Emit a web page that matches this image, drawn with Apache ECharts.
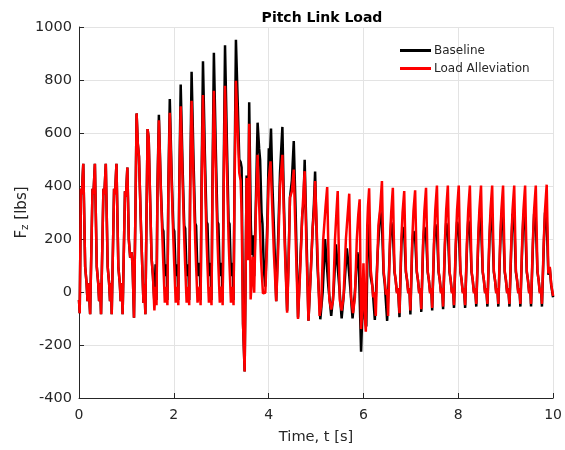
<!DOCTYPE html>
<html><head><meta charset="utf-8">
<script src="https://cdn.jsdelivr.net/npm/echarts@6/dist/echarts.min.js"></script>
<style>html,body{margin:0;padding:0;background:#fff}#c{width:565px;height:450px}</style>
</head><body><div id="c"></div>
<script>
// Axis ticks
const xTicks = [0, 2, 4, 6, 8, 10];
const yTicks = [-400, -200, 0, 200, 400, 600, 800, 1000];
const seriesNames = ['Baseline', 'Load Alleviation'];

// [time (s), Fz (lbs)], Load Alleviation (red)
const loadAlleviation = [
 [0,-30],[0.015,-80],[0.04,390],[0.06,370],[0.09,484],[0.13,95],[0.16,33],[0.18,-35],[0.20,33],
 [0.235,-84],[0.285,390],[0.305,370],[0.335,484],[0.375,95],[0.405,33],[0.425,-35],[0.445,33],
 [0.465,-84],[0.515,390],[0.535,370],[0.565,484],[0.605,95],[0.635,33],[0.655,-35],[0.675,33],
 [0.69,-84],[0.74,390],[0.76,370],[0.79,484],[0.83,95],[0.86,33],[0.88,-35],[0.90,33],
 [0.92,-84],[0.97,380],[0.99,360],[1.02,470],[1.05,200],[1.08,130],[1.11,150],[1.13,100],
 [1.16,-97],[1.19,300],[1.215,674],[1.24,560],[1.265,512],[1.31,230],[1.36,-41],[1.38,27],[1.40,-84],
 [1.425,300],[1.447,615],[1.47,580],[1.50,350],[1.53,130],[1.56,60],[1.59,-70],
 [1.615,20],[1.635,-50],[1.655,380],[1.685,648],[1.725,390],[1.76,200],[1.78,100],[1.81,-40],
 [1.845,20],[1.865,-50],[1.885,380],[1.915,676],[1.955,405],[1.99,200],[2.01,100],[2.04,-40],
 [2.075,20],[2.095,-50],[2.115,380],[2.145,701],[2.185,420],[2.22,200],[2.24,100],[2.27,-40],
 [2.305,20],[2.325,-50],[2.345,380],[2.375,722],[2.415,433],[2.45,200],[2.47,100],[2.50,-40],
 [2.545,20],[2.565,-50],[2.585,380],[2.615,743],[2.655,445],[2.69,200],[2.71,100],[2.74,-40],
 [2.775,20],[2.795,-50],[2.815,380],[2.845,759],[2.885,455],[2.92,200],[2.94,100],[2.97,-40],
 [3.01,20],[3.03,-50],[3.05,380],[3.08,778],[3.12,467],[3.155,200],[3.175,100],[3.205,-40],
 [3.24,20],[3.26,-50],[3.28,380],[3.31,797],[3.35,600],[3.38,450],[3.41,420],[3.43,300],[3.46,-120],[3.494,-300],[3.535,430],[3.565,120],
 [3.59,635],[3.62,-28],[3.65,60],[3.67,133],[3.695,-3],[3.73,300],
 [3.767,518],[3.80,330],[3.84,120],[3.88,-5],[3.93,-3],[3.97,200],[4.00,420],
 [4.04,493],[4.07,350],[4.11,150],[4.16,-35],[4.20,150],[4.24,400],
 [4.29,518],[4.32,300],[4.345,150],[4.39,-78],[4.42,100],[4.45,356],[4.49,380],
 [4.53,462],[4.57,200],[4.62,-102],[4.66,60],[4.71,294],[4.735,300],
 [4.76,456],[4.80,150],[4.84,-108],[4.89,80],[4.93,245],[4.955,300],
 [4.98,419],[5.03,150],[5.05,30],[5.075,-90],[5.11,-50],[5.15,195],[5.20,320],
 [5.235,396],[5.28,-28],[5.32,-66],[5.36,-30],[5.40,200],[5.43,300],
 [5.457,381],[5.50,-30],[5.54,-70],[5.58,-20],[5.63,200],[5.67,300],
 [5.70,371],[5.74,-20],[5.78,-80],[5.82,-20],[5.86,200],[5.89,290],
 [5.92,350],[5.95,-140],[5.975,-60],[6.00,108],[6.03,-100],[6.05,-150],[6.08,250],[6.095,320],
 [6.12,391],[6.155,80],[6.18,40],[6.205,-20],[6.23,0],[6.26,-90],[6.315,250],[6.35,310],
 [6.39,419],[6.425,80],[6.45,40],[6.475,-10],[6.50,10],
 [6.52,-90],[6.56,200],[6.585,300],[6.62,393],[6.655,80],[6.68,45],[6.705,-5],[6.73,15],
 [6.76,-80],[6.80,200],[6.825,300],[6.86,381],[6.895,80],[6.92,45],[6.945,-5],[6.97,15],
 [6.99,-70],[7.03,200],[7.055,305],[7.09,384],[7.125,80],[7.15,45],[7.175,-5],[7.20,15],
 [7.22,-65],[7.26,200],[7.285,305],[7.32,393],[7.355,80],[7.38,45],[7.405,-5],[7.43,15],
 [7.45,-60],[7.49,200],[7.515,310],[7.55,402],[7.585,80],[7.61,45],[7.635,-5],[7.66,15],
 [7.68,-55],[7.72,200],[7.745,310],[7.78,402],[7.815,80],[7.84,45],[7.865,-5],[7.89,15],
 [7.91,-50],[7.95,200],[7.975,310],[8.01,402],[8.045,80],[8.07,45],[8.095,-5],[8.12,15],
 [8.145,-50],[8.185,200],[8.21,310],[8.245,402],[8.28,80],[8.305,45],[8.33,-5],[8.355,15],
 [8.38,-45],[8.42,200],[8.445,310],[8.48,402],[8.515,80],[8.54,45],[8.565,-5],[8.59,15],
 [8.615,-45],[8.655,200],[8.68,310],[8.715,402],[8.75,80],[8.775,45],[8.80,-5],[8.825,15],
 [8.845,-45],[8.885,200],[8.91,310],[8.945,402],[8.98,80],[9.005,45],[9.03,-5],[9.055,15],
 [9.08,-45],[9.12,200],[9.145,310],[9.18,402],[9.215,80],[9.24,45],[9.265,-5],[9.29,15],
 [9.31,-45],[9.35,200],[9.375,310],[9.41,402],[9.445,80],[9.47,45],[9.495,-5],[9.52,15],
 [9.535,-45],[9.575,200],[9.60,310],[9.635,402],[9.67,80],[9.695,45],[9.72,-5],[9.745,15],
 [9.765,-45],[9.805,200],[9.83,310],[9.865,405],[9.90,70],[9.93,95],[9.96,30],[10.0,-15]
];

// [time (s), Fz (lbs)], Baseline (black)
const baseline = [
 [0,-30],[0.015,-80],[0.04,390],[0.06,370],[0.09,484],[0.13,95],[0.16,33],[0.18,-35],[0.20,33],
 [0.235,-84],[0.285,390],[0.305,370],[0.335,484],[0.375,95],[0.405,33],[0.425,-35],[0.445,33],
 [0.465,-84],[0.515,390],[0.535,370],[0.565,484],[0.605,95],[0.635,33],[0.655,-35],[0.675,33],
 [0.69,-84],[0.74,390],[0.76,370],[0.79,484],[0.83,95],[0.86,33],[0.88,-35],[0.90,33],
 [0.92,-84],[0.97,380],[0.99,360],[1.02,470],[1.05,200],[1.08,130],[1.11,150],[1.13,100],
 [1.16,-97],[1.19,300],[1.215,674],[1.24,560],[1.265,512],[1.31,230],[1.36,-41],[1.38,27],[1.40,-84],
 [1.425,300],[1.447,615],[1.47,580],[1.50,350],[1.53,130],[1.56,60],[1.59,-40],
 [1.615,105],[1.635,-30],[1.655,400],[1.685,669],[1.725,400],[1.76,240],[1.78,230],[1.81,60],
 [1.845,105],[1.865,-30],[1.885,400],[1.915,728],[1.955,437],[1.99,240],[2.01,230],[2.04,60],
 [2.075,105],[2.095,-30],[2.115,400],[2.145,783],[2.185,470],[2.22,250],[2.24,240],[2.27,60],
 [2.305,105],[2.325,-30],[2.345,410],[2.375,831],[2.415,500],[2.45,260],[2.47,250],[2.50,60],
 [2.545,110],[2.565,-30],[2.585,410],[2.615,871],[2.655,520],[2.69,265],[2.71,257],[2.74,60],
 [2.775,110],[2.795,-30],[2.815,410],[2.845,903],[2.885,540],[2.92,265],[2.94,257],[2.97,60],
 [3.01,110],[3.03,-30],[3.05,410],[3.08,931],[3.12,560],[3.155,265],[3.175,257],[3.205,60],
 [3.24,110],[3.26,-30],[3.28,410],[3.31,952],[3.35,700],[3.38,500],[3.41,490],[3.43,470],[3.46,-120],[3.494,-300],[3.535,440],[3.565,130],
 [3.59,716],[3.625,250],[3.645,140],[3.67,214],[3.695,60],[3.73,330],
 [3.767,639],[3.80,540],[3.82,500],[3.85,300],[3.87,257],[3.90,80],[3.93,20],[3.97,250],[4.004,542],[4.02,480],
 [4.05,617],[4.08,400],[4.11,250],[4.16,-35],[4.20,200],[4.24,450],
 [4.29,623],[4.32,350],[4.345,183],[4.39,-71],[4.42,120],[4.45,356],[4.49,420],
 [4.53,570],[4.57,300],[4.62,-96],[4.66,80],[4.71,294],[4.735,330],
 [4.76,499],[4.80,200],[4.84,-108],[4.89,80],[4.93,245],[4.955,330],
 [4.98,455],[5.03,100],[5.09,-103],[5.14,0],[5.19,200],[5.22,120],[5.26,20],
 [5.32,-90],[5.37,0],[5.42,180],[5.45,110],[5.49,20],
 [5.54,-100],[5.59,0],[5.65,165],[5.68,110],[5.72,20],
 [5.77,-100],[5.82,0],[5.87,150],[5.90,120],[5.95,-225],[5.98,-60],[6.00,60],[6.03,-100],[6.06,-130],
 [6.09,200],[6.115,265],[6.15,60],[6.19,20],[6.24,-105],[6.30,150],[6.355,306],[6.39,260],[6.425,70],[6.45,30],[6.50,-109],
 [6.56,180],[6.585,263],[6.62,235],[6.655,75],[6.68,45],[6.705,0],[6.73,15],
 [6.76,-95],[6.80,180],[6.825,245],[6.86,220],[6.895,75],[6.92,45],[6.945,0],[6.97,15],
 [6.99,-85],[7.03,180],[7.055,230],[7.09,205],[7.125,75],[7.15,45],[7.175,0],[7.20,15],
 [7.22,-75],[7.26,180],[7.285,245],[7.32,220],[7.355,75],[7.38,45],[7.405,0],[7.43,15],
 [7.45,-70],[7.49,180],[7.515,255],[7.55,230],[7.585,75],[7.61,45],[7.635,0],[7.66,15],
 [7.68,-65],[7.72,180],[7.745,260],[7.78,235],[7.815,75],[7.84,45],[7.865,0],[7.89,15],
 [7.91,-60],[7.95,180],[7.975,265],[8.01,240],[8.045,75],[8.07,45],[8.095,0],[8.12,15],
 [8.145,-60],[8.185,180],[8.21,270],[8.245,245],[8.28,75],[8.305,45],[8.33,0],[8.355,15],
 [8.38,-55],[8.42,180],[8.445,285],[8.48,260],[8.515,75],[8.54,45],[8.565,0],[8.59,15],
 [8.615,-55],[8.655,180],[8.68,290],[8.715,265],[8.75,75],[8.775,45],[8.80,0],[8.825,15],
 [8.845,-55],[8.885,180],[8.91,290],[8.945,265],[8.98,75],[9.005,45],[9.03,0],[9.055,15],
 [9.08,-55],[9.12,180],[9.145,295],[9.18,270],[9.215,75],[9.24,45],[9.265,0],[9.29,15],
 [9.31,-55],[9.35,180],[9.375,295],[9.41,270],[9.445,75],[9.47,45],[9.495,0],[9.52,15],
 [9.535,-55],[9.575,180],[9.60,295],[9.635,270],[9.67,75],[9.695,45],[9.72,0],[9.745,15],
 [9.765,-55],[9.805,180],[9.83,300],[9.865,275],[9.90,65],[9.93,90],[9.96,25],[10.0,-20]
];

const FONT = '"DejaVu Sans", Verdana, sans-serif';
const TXT = '#262626';
const chart = echarts.init(document.getElementById('c'), null, {renderer: 'canvas'});
chart.setOption({
  animation: false,
  backgroundColor: '#ffffff',
  textStyle: {fontFamily: FONT},
  title: {
    text: 'Pitch Link Load', left: 317, top: 6, textAlign: 'center',
    textStyle: {fontSize: 14, fontWeight: 'bold', color: '#000', fontFamily: FONT}
  },
  legend: {
    orient: 'vertical', left: 400, top: 43, padding: 0, itemWidth: 31, itemHeight: 3, itemGap: 3,
    icon: 'rect', data: seriesNames,
    textStyle: {fontSize: 12, color: TXT, fontFamily: FONT, lineHeight: 15, padding: [0, 0, 0, -2]}
  },
  grid: {left: 79, right: 9, top: 27, bottom: 47, containLabel: false},
  xAxis: {
    type: 'value', min: xTicks[0], max: xTicks[xTicks.length - 1], interval: 2,
    name: 'Time, t [s]', nameLocation: 'middle', nameGap: 32,
    nameTextStyle: {fontSize: 14.6, color: TXT, fontFamily: FONT},
    axisLine: {onZero: false, lineStyle: {color: TXT, width: 1}},
    axisTick: {inside: true, length: 5, lineStyle: {color: TXT}},
    axisLabel: {color: TXT, fontSize: 14, margin: 10, fontFamily: FONT},
    splitLine: {show: true, lineStyle: {color: '#e3e3e3', width: 1}}
  },
  yAxis: {
    type: 'value', min: yTicks[0], max: yTicks[yTicks.length - 1], interval: 200,
    name: '{a|F}{b|z}{a| [lbs]}', nameLocation: 'middle', nameGap: 48, nameRotate: 90,
    nameMoveOverlap: false,
    nameTextStyle: {color: TXT, fontFamily: FONT, rich: {
      a: {fontSize: 15, color: TXT, fontFamily: FONT, lineHeight: 18},
      b: {fontSize: 10.5, color: TXT, fontFamily: FONT, lineHeight: 10, verticalAlign: 'bottom'}
    }},
    axisLine: {show: true, onZero: false, lineStyle: {color: TXT, width: 1}},
    axisTick: {show: true, inside: true, length: 5, lineStyle: {color: TXT}},
    axisLabel: {color: TXT, fontSize: 14.5, margin: 7, fontFamily: FONT, formatter: v => String(v)},
    splitLine: {show: true, lineStyle: {color: '#e3e3e3', width: 1}}
  },
  series: [
    {name: seriesNames[0], type: 'line', data: baseline, symbol: 'none', clip: true,
     lineStyle: {color: '#000000', width: 2.5}, itemStyle: {color: '#000000'}, z: 2},
    {name: seriesNames[1], type: 'line', data: loadAlleviation, symbol: 'none', clip: true,
     lineStyle: {color: '#ff0000', width: 2.5}, itemStyle: {color: '#ff0000'}, z: 3}
  ]
});
</script>
</body></html>
